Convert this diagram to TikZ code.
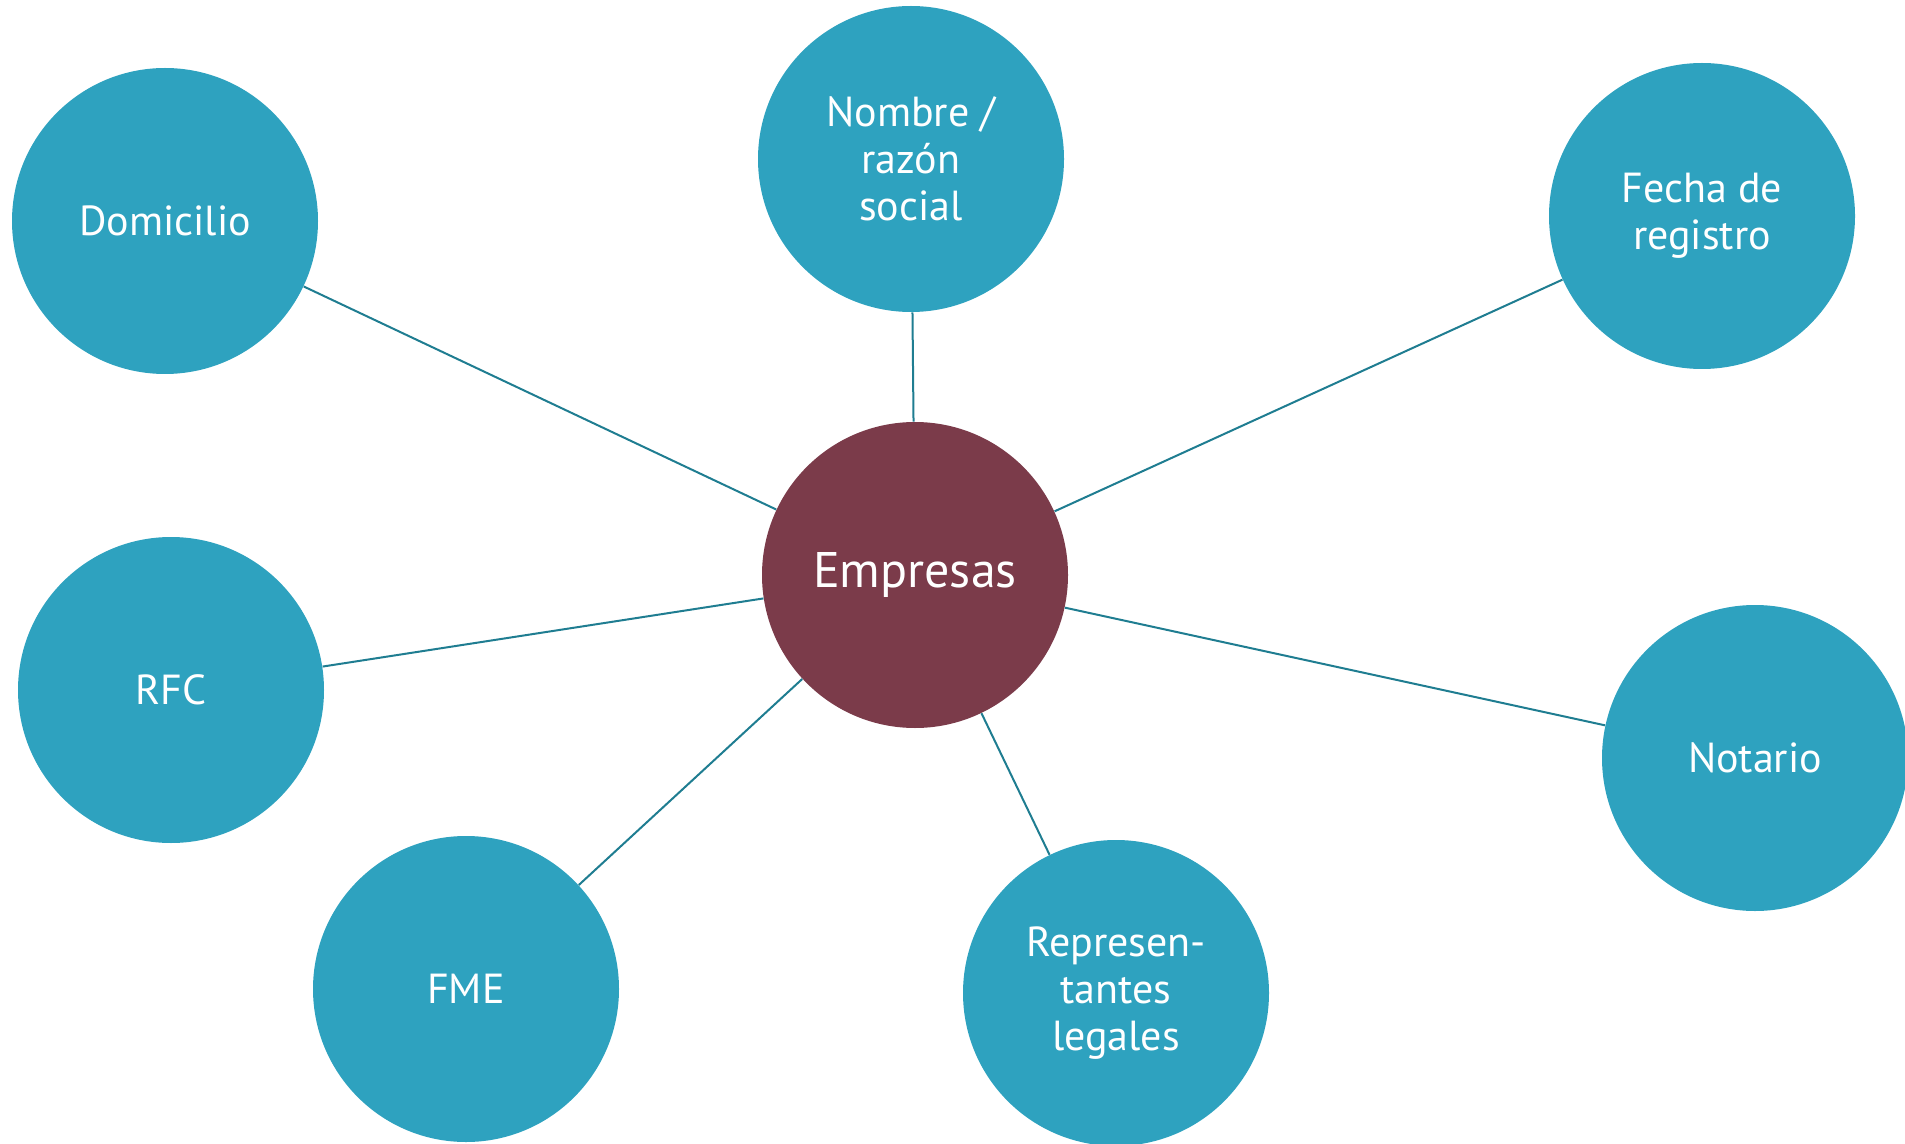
\documentclass[tikz,border=0pt]{standalone}
\usepackage{fontspec}
\setmainfont{PT Sans}
\definecolor{bubble}{RGB}{46,162,191}
\definecolor{hub}{RGB}{123,59,74}
\definecolor{conn}{RGB}{31,125,145}
\begin{document}
\begin{tikzpicture}[x=0.5pt,y=-0.5pt,
  leaf/.style={circle,fill=bubble,minimum size=153pt,inner sep=0pt,text=white,
    font=\fontsize{21pt}{23.5pt}\selectfont,align=center},
  center/.style={circle,fill=hub,minimum size=153pt,inner sep=0pt,text=white,
    font=\fontsize{25pt}{29pt}\selectfont,align=center},
  link/.style={draw=conn,line width=1pt}]
\useasboundingbox (0,0) rectangle (1905,1144);
\node[center] (emp) at (915,575) {Empresas};
\node[leaf] (nom) at (911,159) {Nombre /\\razón\\social};
\node[leaf] (dom) at (165,221) {Domicilio};
\node[leaf] (fec) at (1702,216) {Fecha de\\registro};
\node[leaf] (rfc) at (171,690) {RFC};
\node[leaf] (not) at (1755,758) {Notario};
\node[leaf] (fme) at (466,989) {FME};
\node[leaf] (rep) at (1116,993) {Represen-\\tantes\\legales};
\foreach \n in {nom,dom,fec,rfc,not,fme,rep}
  \draw[link] (emp) -- (\n);
\end{tikzpicture}
\end{document}
